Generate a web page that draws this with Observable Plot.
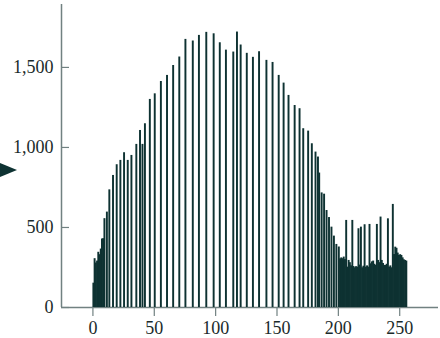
<!DOCTYPE html>
<html><head><meta charset="utf-8">
<script src="https://cdn.jsdelivr.net/npm/d3@7"></script>
<script src="https://cdn.jsdelivr.net/npm/@observablehq/plot@0.6"></script>
<style>
body{margin:0;background:#fff;}
#wrap{position:relative;width:440px;height:338px;overflow:hidden;}
#wrap svg text{font-family:'Liberation Serif', 'DejaVu Serif', serif;}
#arrow{position:absolute;left:0;top:163px;width:0;height:0;border-top:7px solid transparent;border-bottom:7px solid transparent;border-left:17px solid #0e3232;}
</style></head><body>
<div id="wrap"><div id="arrow"></div></div>
<script>
// Histogram bins (pixel intensity) and counts
const bins = [
  0,1,2,3,4,5,6,7,8,9,11,13,16,19,22,25,28,31,35,38,40,42,46,50,55,60,65,70,75,81,86,92,98,103,108,114,117,120,125,130,135,141,146,151,155,159,164,168,171,175,178,181,183,
  184,186,188,190,192,194,196,198,200,
  201,202,203,204,205,206,207,208,209,210,211,212,213,214,215,216,217,218,219,220,221,222,223,224,225,226,227,228,229,230,231,232,233,234,235,236,237,238,239,240,241,242,243,244,245,246,247,248,249,250,251,252,253,254,255
];
const counts = [
  152,305,278,290,345,330,365,428,430,555,596,735,825,892,919,967,919,950,1019,1106,1019,1148,1300,1335,1412,1450,1512,1565,1675,1665,1700,1719,1710,1654,1608,1596,1721,1640,1588,1563,1598,1544,1531,1450,1402,1325,1262,1242,1117,1102,1023,971,940,
  840,716,708,606,562,502,446,394,378,
  304,310,305,315,300,544,252,294,280,260,544,256,248,255,252,492,265,502,248,258,517,252,260,252,519,273,285,290,270,263,519,294,280,565,294,275,263,263,270,554,252,260,248,644,331,377,370,340,325,330,325,310,298,294,290
];
const xTicks = [0, 50, 100, 150, 200, 250];
const yTicks = [0, 500, 1000, 1500];

const data = bins.map((b, i) => ({b, c: counts[i]}));
const ymax = d3.max(counts) * 1.1;
const axisColor = "#718181";
const serif = "'Liberation Serif', 'DejaVu Serif', serif";

const chart = Plot.plot({
  width: 440, height: 338,
  marginLeft: 61, marginRight: 2, marginTop: 4, marginBottom: 31,
  style: {fontFamily: serif, fontSize: "18px", color: "#1a2a2a", background: "transparent"},
  x: {domain: [-25.6, 281.6], label: null},
  y: {domain: [0, ymax], label: null},
  marks: [
    Plot.ruleY([0], {stroke: axisColor, strokeWidth: 1.5}),
    Plot.ruleX([-25.6], {stroke: axisColor, strokeWidth: 1.5}),
    Plot.rectY(data, {x1: "b", x2: d => d.b + 1, y: "c", fill: "#0e3232", insetRight: -0.7}),
    Plot.axisX({ticks: xTicks, label: null, tickSize: 9, tickPadding: 5, stroke: axisColor, strokeWidth: 1.2, fontFamily: serif, fontSize: 18}),
    Plot.axisY({ticks: yTicks, label: null, tickSize: -8, tickPadding: 16, tickFormat: d3.format(","), stroke: axisColor, strokeWidth: 1.2, fontFamily: serif, fontSize: 18})
  ]
});
document.getElementById("wrap").appendChild(chart);
</script>
</body></html>
